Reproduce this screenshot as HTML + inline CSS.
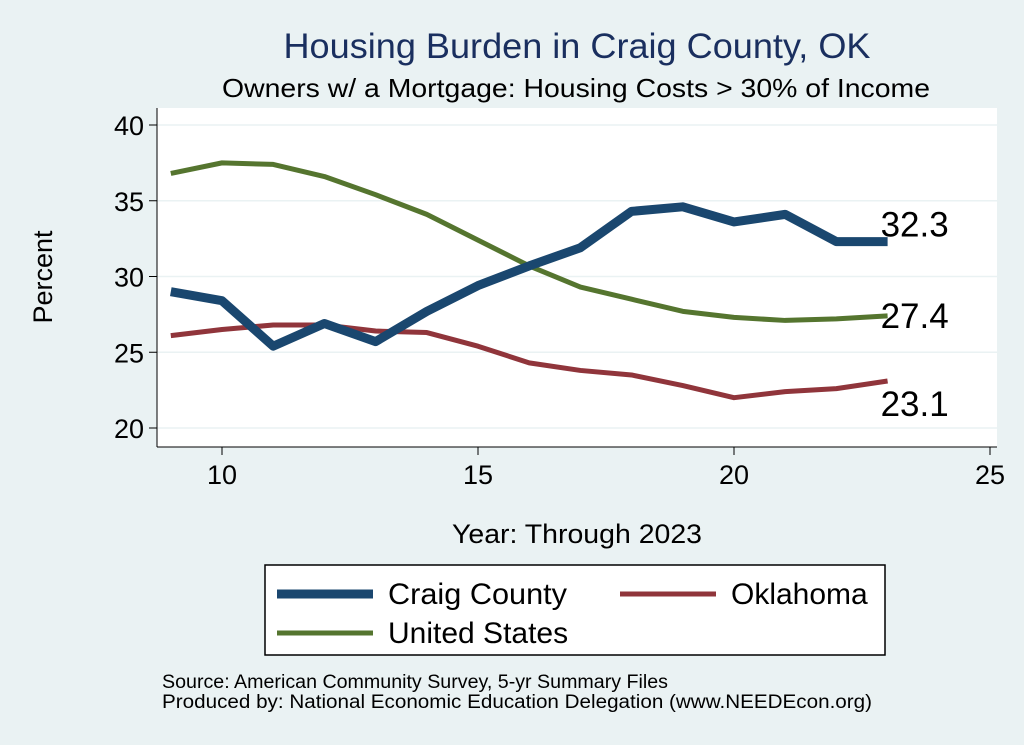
<!DOCTYPE html>
<html><head><meta charset="utf-8"><style>
body{margin:0;background:#eaf2f3;}
svg{display:block;font-family:"Liberation Sans",sans-serif;}
</style></head><body>
<svg width="1024" height="745" viewBox="0 0 1024 745">
<rect x="0" y="0" width="1024" height="745" fill="#eaf2f3"/>
<text x="577" y="58" font-size="35" fill="#1a2f5f" text-anchor="middle" textLength="587" lengthAdjust="spacingAndGlyphs">Housing Burden in Craig County, OK</text>
<text x="576" y="97" font-size="26" fill="#000" text-anchor="middle" textLength="708" lengthAdjust="spacingAndGlyphs">Owners w/ a Mortgage: Housing Costs &gt; 30% of Income</text>
<rect x="157" y="108" width="840" height="339" fill="#fff"/>
<g id="grid"></g><g id="axes"></g><g id="series"></g><g id="labels"></g>
<text x="52" y="277" font-size="27" text-anchor="middle" transform="rotate(-90 52 277)">Percent</text>
<text x="577" y="543" font-size="27" text-anchor="middle" textLength="250" lengthAdjust="spacingAndGlyphs">Year: Through 2023</text>
<g>
<rect x="265" y="565" width="620" height="90" fill="#fff" stroke="#000" stroke-width="1.5"/>
<line x1="277" y1="594" x2="373" y2="594" stroke="#1a476f" stroke-width="9"/>
<text x="388" y="604" font-size="30" textLength="179" lengthAdjust="spacingAndGlyphs">Craig County</text>
<line x1="620" y1="594" x2="716" y2="594" stroke="#90353b" stroke-width="5"/>
<text x="731" y="604" font-size="30">Oklahoma</text>
<line x1="277" y1="633" x2="373" y2="633" stroke="#55752f" stroke-width="5"/>
<text x="388" y="643" font-size="30">United States</text>
</g>
<text x="162" y="688" font-size="19" textLength="506" lengthAdjust="spacingAndGlyphs">Source: American Community Survey, 5-yr Summary Files</text>
<text x="162" y="708" font-size="19" textLength="710" lengthAdjust="spacingAndGlyphs">Produced by: National Economic Education Delegation (www.NEEDEcon.org)</text>
</svg>
<script>
const years=[9,10,11,12,13,14,15,16,17,18,19,20,21,22,23];
const craig=[29.0,28.4,25.4,26.9,25.7,27.7,29.4,30.7,31.9,34.3,34.6,33.6,34.1,32.3,32.3];
const oklahoma=[26.1,26.5,26.8,26.8,26.4,26.3,25.4,24.3,23.8,23.5,22.8,22.0,22.4,22.6,23.1];
const us=[36.8,37.5,37.4,36.6,35.4,34.1,32.4,30.7,29.3,28.5,27.7,27.3,27.1,27.2,27.4];
const xTicks=[10,15,20,25];
const yTicks=[20,25,30,35,40];
const NS="http://www.w3.org/2000/svg";
const X=v=>478+(v-15)*51.2;
const Y=v=>428-(v-20)*15.15;
function mk(tag,attrs,parent){const e=document.createElementNS(NS,tag);for(const k in attrs)e.setAttribute(k,attrs[k]);document.getElementById(parent).appendChild(e);return e;}
yTicks.forEach(t=>{
 const g=mk('line',{x1:157,x2:997,y1:Y(t),y2:Y(t),stroke:'#eaf2f3','stroke-width':1.5},'grid');
 
 
 const tk=mk('line',{x1:149,x2:157,y1:Y(t),y2:Y(t),stroke:'#000','stroke-width':1},'axes');
 
 
 const tx=mk('text',{x:144,y:Y(t)+10,'font-size':27,'text-anchor':'end'},'axes');tx.textContent=t;
 
 
});
xTicks.forEach(t=>{
 const tk=mk('line',{x1:X(t),x2:X(t),y1:447,y2:455,stroke:'#000','stroke-width':1},'axes');
 
 
 const tx=mk('text',{x:X(t),y:484,'font-size':27,'text-anchor':'middle'},'axes');tx.textContent=t;
 
 
});
const ax1=mk('line',{x1:157,x2:157,y1:108,y2:447,stroke:'#000','stroke-width':1},'axes');


const ax2=mk('line',{x1:157,x2:997,y1:447,y2:447,stroke:'#000','stroke-width':1},'axes');


function line(vals,color,w,name){
 const p=mk('polyline',{points:years.map((y,i)=>X(y)+','+Y(vals[i])).join(' '),fill:'none',stroke:color,'stroke-width':w,'stroke-linejoin':'round'},'series');
 
 
}
line(us,'#55752f',5,'us-line');
line(oklahoma,'#90353b',5,'oklahoma-line');
line(craig,'#1a476f',9,'craig-line');
const last=years.length-1;
[[craig,'craig-end-label',-5],[us,'us-end-label',12],[oklahoma,'oklahoma-end-label',35]].forEach(([v,n,dy])=>{
 const t=mk('text',{x:X(years[last])-7,y:Y(v[last])+dy,'font-size':35},'labels');
 t.textContent=v[last].toFixed(1);
 
 
});
</script>
</body></html>
